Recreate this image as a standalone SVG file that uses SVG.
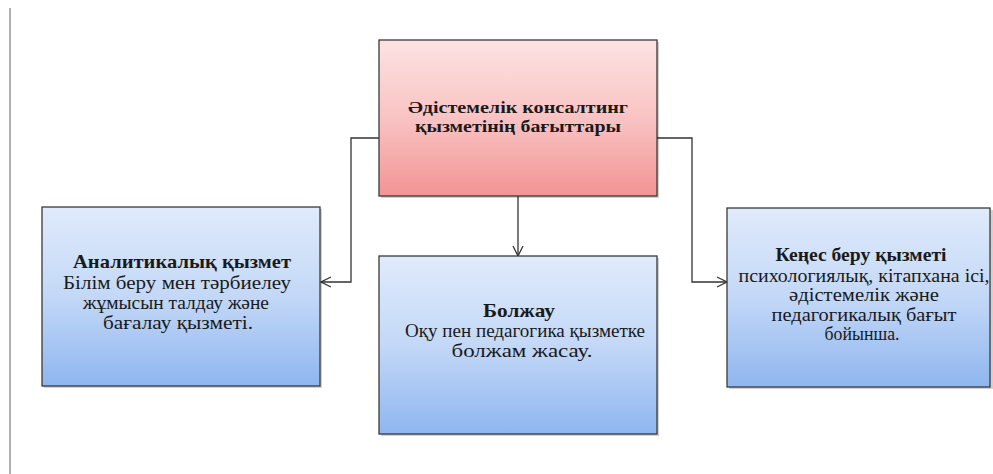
<svg xmlns="http://www.w3.org/2000/svg" width="993" height="474" viewBox="0 0 993 474">
<defs>
<linearGradient id="pink" x1="0" y1="0" x2="0" y2="1">
<stop offset="0" stop-color="#fde3e3"/>
<stop offset="0.5" stop-color="#f9c3c3"/>
<stop offset="1" stop-color="#f29494"/>
</linearGradient>
<linearGradient id="blue" x1="0" y1="0" x2="0" y2="1">
<stop offset="0" stop-color="#e0ebfb"/>
<stop offset="0.5" stop-color="#c3d8f7"/>
<stop offset="1" stop-color="#8fb6ef"/>
</linearGradient>
<marker id="arr" markerWidth="12" markerHeight="12" refX="11" refY="6" orient="auto" markerUnits="userSpaceOnUse">
<path d="M1,1 L11,6 L1,11" fill="none" stroke="#333" stroke-width="1.3"/>
</marker>
</defs>
<style>
.box{stroke:#3a3a3a;stroke-width:1.3}
.shadow{fill:#000;opacity:0.18}
text{font-family:'Liberation Serif','Times New Roman',serif;fill:#1a1a1a;text-anchor:middle;font-size:19.5px}
.b{font-weight:bold}
.h{font-size:17.5px}
.conn{fill:none;stroke:#333;stroke-width:1.3}
</style>
<rect width="993" height="474" fill="#fff"/>
<line x1="10" y1="8" x2="10" y2="474" stroke="#b0b0b0" stroke-width="2"/>
<g id="connectors">
<polyline class="conn" points="379,138 351,138 351,282 321,282" marker-end="url(#arr)"/>
<polyline class="conn" points="657,138 692,138 692,282 727,282" marker-end="url(#arr)"/>
<line class="conn" x1="518" y1="196" x2="518" y2="256" marker-end="url(#arr)"/>
</g>
<g id="top">
<rect class="shadow" x="381" y="42" width="278" height="156"/>
<rect class="box" x="379" y="40" width="278" height="156" fill="url(#pink)"/>
<text class="b h" x="518" y="113" textLength="220" lengthAdjust="spacingAndGlyphs">Әдістемелік консалтинг</text>
<text class="b h" x="518" y="132" textLength="206" lengthAdjust="spacingAndGlyphs">қызметінің бағыттары</text>
</g>
<g id="analytic">
<rect class="shadow" x="44" y="209" width="278" height="179"/>
<rect class="box" x="42" y="207" width="278" height="179" fill="url(#blue)"/>
<text class="b" x="182" y="268" textLength="218" lengthAdjust="spacingAndGlyphs">Аналитикалық қызмет</text>
<text x="177" y="289" textLength="228" lengthAdjust="spacingAndGlyphs">Білім беру мен тәрбиелеу</text>
<text x="176" y="309" textLength="186" lengthAdjust="spacingAndGlyphs">жұмысын талдау және</text>
<text x="178" y="329" textLength="150" lengthAdjust="spacingAndGlyphs">бағалау қызметі.</text>
</g>
<g id="forecast">
<rect class="shadow" x="381" y="258" width="278" height="178"/>
<rect class="box" x="379" y="256" width="278" height="178" fill="url(#blue)"/>
<text class="b" x="519" y="317" textLength="72" lengthAdjust="spacingAndGlyphs">Болжау</text>
<text x="525" y="337" textLength="240" lengthAdjust="spacingAndGlyphs">Оқу пен педагогика қызметке</text>
<text x="522" y="357" textLength="141" lengthAdjust="spacingAndGlyphs">болжам жасау.</text>
</g>
<g id="advice">
<rect class="shadow" x="729" y="210" width="266" height="179"/>
<rect class="box" x="727" y="208" width="263" height="179" fill="url(#blue)"/>
<text class="b" x="861" y="261" textLength="171" lengthAdjust="spacingAndGlyphs">Кеңес беру қызметі</text>
<text x="864" y="282" textLength="251" lengthAdjust="spacingAndGlyphs">психологиялық, кітапхана ісі,</text>
<text x="864" y="301" textLength="150" lengthAdjust="spacingAndGlyphs">әдістемелік және</text>
<text x="864" y="321" textLength="185" lengthAdjust="spacingAndGlyphs">педагогикалық бағыт</text>
<text x="862" y="340" textLength="75" lengthAdjust="spacingAndGlyphs">бойынша.</text>
</g>
</svg>
